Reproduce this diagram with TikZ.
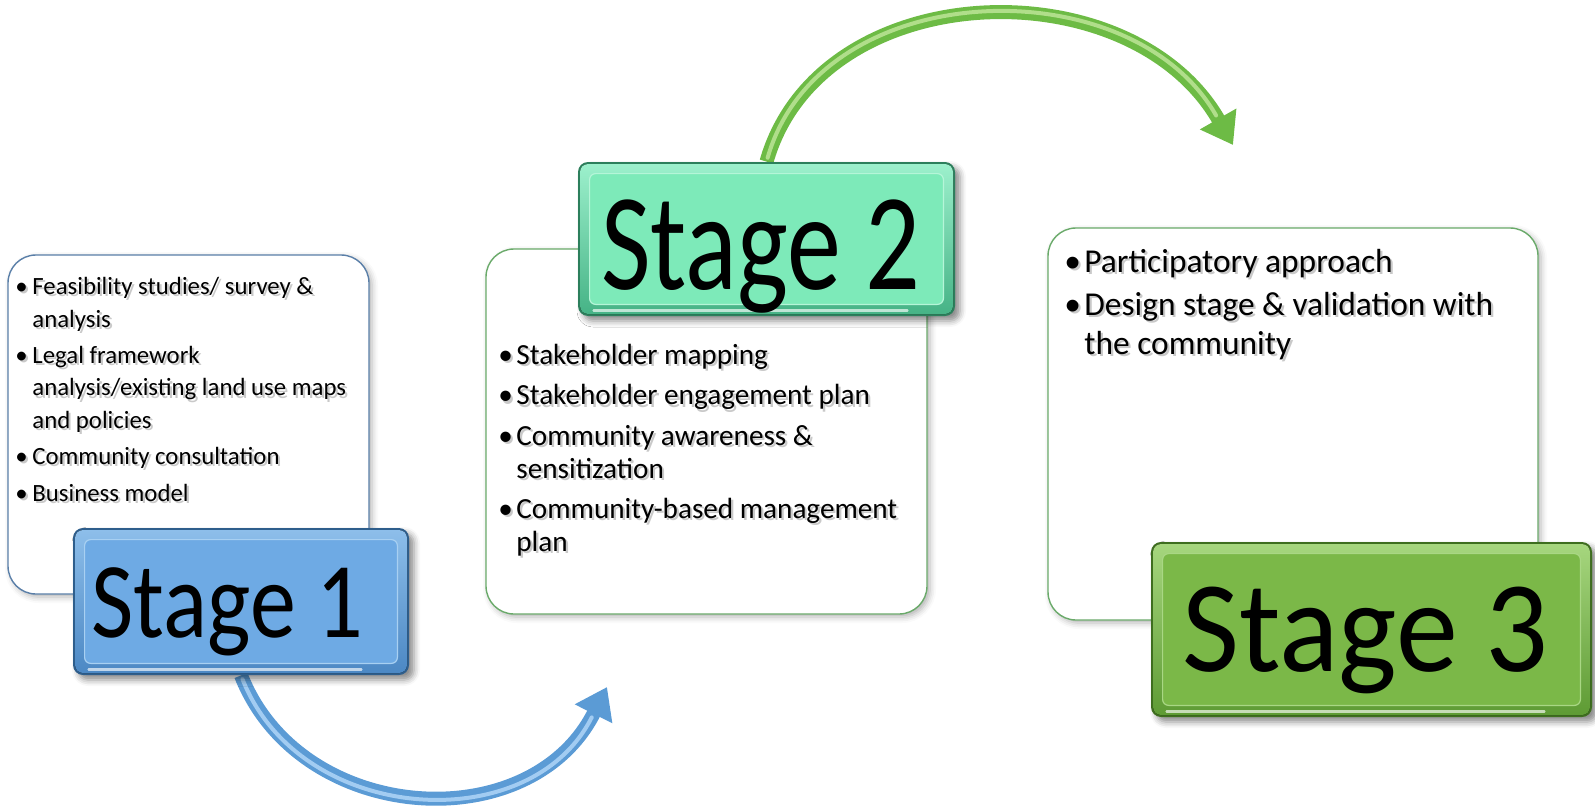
\documentclass[tikz,border=0pt]{standalone}
\usepackage{fontspec}
\setmainfont{Carlito}
\usetikzlibrary{arrows.meta,shadows.blur,calc,fit}
\pgfdeclarelayer{bg}
\pgfsetlayers{bg,main}

% stage box palettes: edge, rim, rim top, face, highlight
\definecolor{blueedge}{HTML}{2E5E8C}
\definecolor{bluerim}{HTML}{4C88C4}
\definecolor{bluerimtop}{HTML}{8DBEEA}
\definecolor{blueface}{HTML}{6EAAE4}
\definecolor{bluehi}{HTML}{A8D0F2}
\definecolor{tealedge}{HTML}{2C7F5C}
\definecolor{tealrim}{HTML}{46B386}
\definecolor{tealrimtop}{HTML}{9CF0CC}
\definecolor{tealface}{HTML}{7DEAB9}
\definecolor{tealhi}{HTML}{B5F5D8}
\definecolor{greenedge}{HTML}{3E6E1F}
\definecolor{greenrim}{HTML}{5E9B34}
\definecolor{greenrimtop}{HTML}{A6D67E}
\definecolor{greenface}{HTML}{7BB848}
\definecolor{greenhi}{HTML}{A9D784}
% note borders and arrows
\definecolor{noteblue}{HTML}{5A7FA8}
\definecolor{notegreen}{HTML}{6AAA6A}
\definecolor{arrowblue}{HTML}{5B9BD5}
\definecolor{arrowbluelt}{HTML}{A2CCF2}
\definecolor{arrowgreen}{HTML}{6DBB45}
\definecolor{arrowgreenlt}{HTML}{B0DE8A}

\newlength\bulind
\newcommand\bitem[1]{\par\hangindent=\bulind\hangafter=1\noindent\makebox[\bulind][l]{\textbullet}#1}
% bullet list set in a ragged-right minipage: font size, skip, item gap, indent, items
\newcommand\notebody[5]{\begin{minipage}{270pt}\raggedright\fontsize{#1}{#2}\selectfont
  \setlength\parskip{#3}\setlength\bulind{#4}#5\end{minipage}}
% text with a soft grey drop copy beneath it
\newcommand\notetextat[3]{%
  \node[notetext, text=black!60, opacity=.35] (#1s) at ($#2+(1.1pt,-1.1pt)$) {#3};
  \node[notetext] (#1) at #2 {#3};}

\tikzset{
  note/.style={rounded corners=14pt, draw=#1, line width=0.7pt, fill=white, inner sep=0pt,
    blur shadow={shadow xshift=1.5pt, shadow yshift=-1.5pt, shadow opacity=30, shadow blur radius=3pt}},
  notetext/.style={anchor=north west, inner sep=0pt},
  stageouter/.style={fill=#1edge, rounded corners=5pt, inner sep=0pt,
    blur shadow={shadow xshift=2.5pt, shadow yshift=-2.5pt, shadow opacity=45, shadow blur radius=3pt}},
  stagelabel/.style={anchor=base west, inner sep=0pt, text=black},
  curvearrow/.style={line width=7pt, color=#1, -{Triangle[length=15pt,width=20pt]}},
  arrowshine/.style={line width=2pt, color=#1, line cap=round, shorten >=17pt, shorten <=2pt},
}

\newcommand\stagebox[3]{%
  \node[stageouter=#3, fit={#2}] (#1) {};
  \fill[top color=#3rimtop, bottom color=#3rim, rounded corners=4pt]
    ($(#1.south west)+(1.2pt,1.2pt)$) rectangle ($(#1.north east)-(1.2pt,1.2pt)$);
  \fill[#3face, draw=#3hi, line width=0.6pt, rounded corners=3pt]
    ($(#1.south west)+(6pt,6pt)$) rectangle ($(#1.north east)-(6pt,6pt)$);
  \draw[white, opacity=.65, line width=1.2pt, line cap=round]
    ($(#1.south west)+(8pt,3pt)$) -- ($(#1.south east)+(-24pt,3pt)$);
}

\begin{document}
\begin{tikzpicture}[x=0.5pt,y=-0.5pt]
\useasboundingbox (0,0) rectangle (1595,808);

% ---- Stage 1 ----
\node[note=noteblue, fit={(8,255)(369,594)}] (n1) {};
\notetextat{t1}{(15,277)}{\notebody{12.4}{16.2}{2pt}{8.5pt}{%
  \bitem{Feasibility studies/ survey \&\newline analysis}
  \bitem{Legal framework\newline analysis/existing land use maps\newline and policies}
  \bitem{Community consultation}
  \bitem{Business model}}}
\stagebox{s1}{(73,528)(409,675)}{blue}
\node[stagelabel, font=\fontsize{46}{50}\selectfont] (l1) at (91,637) {\scalebox{1}[1.17]{Stage 1}};

% ---- Stage 2 ----
\node[note=notegreen, fit={(486,249)(927,614)}] (n2) {};
\notetextat{t2}{(498,344)}{\notebody{14.6}{16.6}{3.5pt}{9pt}{%
  \bitem{Stakeholder mapping}
  \bitem{Stakeholder engagement plan}
  \bitem{Community awareness \&\newline sensitization}
  \bitem{Community-based management\newline plan}}}
\stagebox{s2}{(578,162)(955,316)}{teal}
\node[stagelabel, font=\fontsize{54}{56}\selectfont] (l2) at (601,289) {\scalebox{1}[1.28]{Stage 2}};

% ---- Stage 3 ----
\node[note=notegreen, fit={(1048,228)(1538,620)}] (n3) {};
\notetextat{t3}{(1064,249)}{\notebody{16.7}{19.3}{2.2pt}{10pt}{%
  \bitem{Participatory approach}
  \bitem{Design stage \& validation with\newline the community}}}
\stagebox{s3}{(1151,542)(1592,717)}{green}
\node[stagelabel, font=\fontsize{62}{64}\selectfont] (l3) at (1182,671) {\scalebox{1}[1.05]{Stage 3}};

% ---- curved arrows between stages ----
\coordinate (tip1) at (607,687);
\coordinate (tip2) at (1233,145);
\begin{pgfonlayer}{bg}
  \draw[curvearrow=arrowblue] (s1.south) .. controls (300,825) and (530,840) .. (tip1);
  \draw[arrowshine=arrowbluelt] (s1.south) .. controls (300,825) and (530,840) .. (tip1);
  \draw[curvearrow=arrowgreen] (s2.north) .. controls (820,-25) and (1130,-35) .. (tip2);
  \draw[arrowshine=arrowgreenlt] (s2.north) .. controls (820,-25) and (1130,-35) .. (tip2);
\end{pgfonlayer}
\end{tikzpicture}
\end{document}
